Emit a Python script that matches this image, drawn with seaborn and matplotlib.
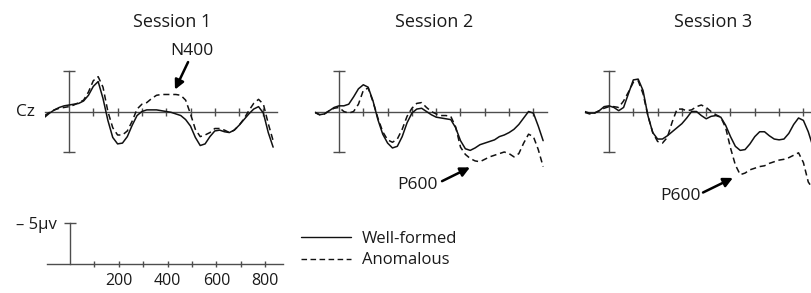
import numpy as np
import pandas as pd
import matplotlib
matplotlib.use('Agg')
import matplotlib.pyplot as plt
import seaborn as sns
from matplotlib.lines import Line2D

# ERP amplitudes in microvolts (negative plotted up), sampled every 20 ms
times = list(range(-100, 841, 20))
sessions = ['Session 1', 'Session 2', 'Session 3']
conditions = ['Well-formed', 'Anomalous']

s1_well = [0.7, 0.2, -0.2, -0.5, -0.7, -0.8, -0.9, -1.0, -1.3, -2.0, -3.1, -3.7,
           -1.6, 1.1, 3.2, 4.0, 3.9, 3.1, 1.7, 0.5, 0.0, -0.2, -0.2, -0.2,
           -0.1, 0.0, 0.1, 0.3, 0.5, 1.0, 1.8, 3.2, 4.2, 4.0, 3.1, 2.4,
           2.3, 2.5, 2.6, 2.3, 1.7, 1.0, 0.3, -0.3, -0.6, 0.2, 2.6, 4.4]
s1_anom = [0.5, 0.1, -0.2, -0.4, -0.5, -0.6, -0.8, -1.1, -1.4, -2.4, -3.8, -4.3,
           -3.0, 0.0, 2.0, 2.9, 2.9, 2.4, 1.2, -0.3, -0.9, -1.1, -1.6, -2.0,
           -2.1, -2.1, -2.1, -2.1, -2.0, -1.4, 0.3, 2.2, 3.1, 2.9, 2.6, 2.1,
           2.1, 2.3, 2.6, 2.3, 1.7, 0.9, -0.1, -1.0, -1.5, -0.9, 1.5, 3.6]
s2_well = [0.1, 0.4, 0.3, -0.1, -0.5, -0.7, -0.7, -0.9, -1.8, -2.8, -3.3, -3.0,
           -1.3, 1.0, 2.8, 3.9, 4.5, 4.3, 3.1, 1.4, 0.2, -0.3, -0.4, 0.0,
           0.4, 0.7, 0.8, 0.9, 1.0, 2.0, 3.6, 4.6, 4.8, 4.5, 4.1, 3.9,
           3.7, 3.5, 3.1, 2.9, 2.6, 2.2, 1.6, 0.8, 0.0, 0.2, 1.8, 3.6]
s2_anom = [0.1, 0.4, 0.3, -0.1, -0.4, -0.5, 0.0, 0.2, 0.0, -0.9, -2.6, -2.9,
           -1.2, 0.8, 2.5, 3.5, 3.8, 3.4, 2.2, 0.6, -0.4, -1.0, -1.1, -0.5,
           0.0, 0.3, 0.5, 0.5, 0.6, 1.9, 4.4, 5.3, 5.8, 6.1, 6.2, 5.9,
           5.6, 5.4, 5.2, 5.0, 5.2, 5.6, 5.2, 3.9, 2.8, 3.1, 4.7, 6.8]
s3_well = [0.0, 0.2, 0.2, -0.1, -0.6, -0.7, -0.5, -0.1, -0.5, -2.2, -3.9, -4.0,
           -2.6, 0.5, 2.6, 3.4, 3.4, 3.0, 2.5, 2.0, 1.5, 0.8, 0.0, 0.0,
           0.5, 0.9, 0.6, 0.5, 0.7, 1.7, 3.1, 4.3, 4.8, 4.7, 4.0, 3.1,
           2.5, 2.5, 3.0, 3.4, 3.5, 3.4, 2.7, 1.6, 0.8, 1.1, 2.5, 4.4]
s3_anom = [0.1, 0.3, 0.2, -0.1, -0.4, -0.6, -0.6, -0.5, -1.3, -2.4, -3.6, -3.8,
           -2.2, 0.5, 2.6, 3.7, 3.9, 3.2, 1.3, -0.3, -0.3, -0.1, -0.2, -0.6,
           -0.8, -0.5, 0.0, 0.4, 0.7, 2.0, 4.5, 6.6, 7.8, 7.6, 7.2, 7.0,
           6.8, 6.7, 6.4, 6.2, 6.0, 5.9, 5.7, 5.4, 5.1, 6.3, 8.7, 9.6]

series = {
    ('Session 1', 'Well-formed'): s1_well, ('Session 1', 'Anomalous'): s1_anom,
    ('Session 2', 'Well-formed'): s2_well, ('Session 2', 'Anomalous'): s2_anom,
    ('Session 3', 'Well-formed'): s3_well, ('Session 3', 'Anomalous'): s3_anom,
}
rows = []
for (sess, cond), vals in series.items():
    for t, v in zip(times, vals):
        rows.append({'session': sess, 'condition': cond, 'time': t, 'amplitude': v})
df = pd.DataFrame(rows)

sns.set_theme(style='white')
plt.rcParams['font.family'] = ['Open Sans', 'DejaVu Sans']

W, H = 812, 293
fig = plt.figure(figsize=(W / 100, H / 100), dpi=100)
fig.patch.set_facecolor('white')

line_color = '#111111'
axis_color = '#4d4d4d'
text_color = '#1a1a1a'
dash_style = {'Well-formed': '', 'Anomalous': (4, 2.5)}

px_ms = 0.243      # pixels per millisecond
px_uv = 8.1        # pixels per microvolt
baseline = 111.5


def px_axes(left, top, width, height):
    return fig.add_axes([left / W, 1 - (top + height) / H, width / W, height / H])


def style_cross(ax, y_bounds, y_ticks, tick_len):
    for s in ['top', 'right']:
        ax.spines[s].set_visible(False)
    for s in ['left', 'bottom']:
        ax.spines[s].set_position(('data', 0))
        ax.spines[s].set_color(axis_color)
        ax.spines[s].set_linewidth(1.0)
    ax.spines['left'].set_bounds(*y_bounds)
    ax.set_xticks(range(100, 801, 100))
    ax.set_yticks(y_ticks)
    ax.tick_params(axis='x', bottom=True, direction='inout', length=tick_len,
                   width=1.0, color=axis_color)
    ax.tick_params(axis='y', left=True, direction='inout', length=9,
                   width=1.0, color=axis_color)
    ax.set_xlabel('')
    ax.set_ylabel('')
    ax.patch.set_alpha(0)


onsets = [69, 339, 609]
x_right = [856, 856, 833]
title_t = [424, 391, 428]
# label, arrow head, arrow tail, text centre
annotations = [
    ('N400', (436, -2.7), (490, -6.1), (506, -7.5)),
    ('P600', (539, 6.9), (424, 8.6), (325, 9.1)),
    ('P600', (510, 8.2), (387, 10.0), (296, 10.4)),
]

for i, sess in enumerate(sessions):
    ax = px_axes(onsets[i] - 100 * px_ms, baseline - 8 * px_uv,
                 (x_right[i] + 100) * px_ms, 18.5 * px_uv)
    sub = df[df['session'] == sess]
    sns.lineplot(data=sub, x='time', y='amplitude', style='condition',
                 style_order=conditions, dashes=dash_style, color=line_color,
                 lw=1.1, estimator=None, errorbar=None, legend=False, ax=ax, zorder=3)
    ax.set_xlim(-100, x_right[i])
    ax.set_ylim(10.5, -8)
    style_cross(ax, (-5, 5), [-5, 5], 6)
    ax.set_xticklabels([])
    ax.set_yticklabels([])
    ax.text(title_t[i], 1.168, sess, transform=ax.get_xaxis_transform(),
            ha='center', va='center', fontsize=13, color=text_color)
    label, head, tail, txt = annotations[i]
    ax.annotate('', xy=head, xytext=tail, annotation_clip=False,
                arrowprops=dict(arrowstyle='-|>', color='black', lw=1.8,
                                mutation_scale=14, shrinkA=0, shrinkB=0))
    ax.text(txt[0], txt[1], label, ha='center', va='center', fontsize=12.5,
            color=text_color, clip_on=False)
    if i == 0:
        ax.text(-138, 0, 'Cz', ha='right', va='center', fontsize=12.5,
                color=text_color, clip_on=False)

# calibration scale
sax = px_axes(70 - 94 * 0.244, 264 - 6 * 8.2, 967 * 0.244, 7 * 8.2)
sax.set_xlim(-94, 873)
sax.set_ylim(1, -6)
style_cross(sax, (-5, 0), [-5], 5)
sax.set_xticklabels([str(t) if t % 200 == 0 else '' for t in range(100, 801, 100)],
                    fontsize=11.5, color=text_color)
sax.set_yticklabels(['– 5μv'], fontsize=12, color=text_color)
sax.tick_params(axis='x', pad=4)
sax.tick_params(axis='y', pad=5)

handles = [Line2D([], [], color=line_color, lw=1.0, ls='-'),
           Line2D([], [], color=line_color, lw=1.0, ls=(0, (4, 2.5)))]
fig.legend(handles, conditions, loc='upper left', bbox_to_anchor=(301 / W, 1 - 231 / H),
           frameon=False, fontsize=12, handlelength=3.0, handletextpad=0.66,
           labelspacing=0.32, borderpad=0, borderaxespad=0, labelcolor=text_color)

fig.savefig('out.png', dpi=100)
